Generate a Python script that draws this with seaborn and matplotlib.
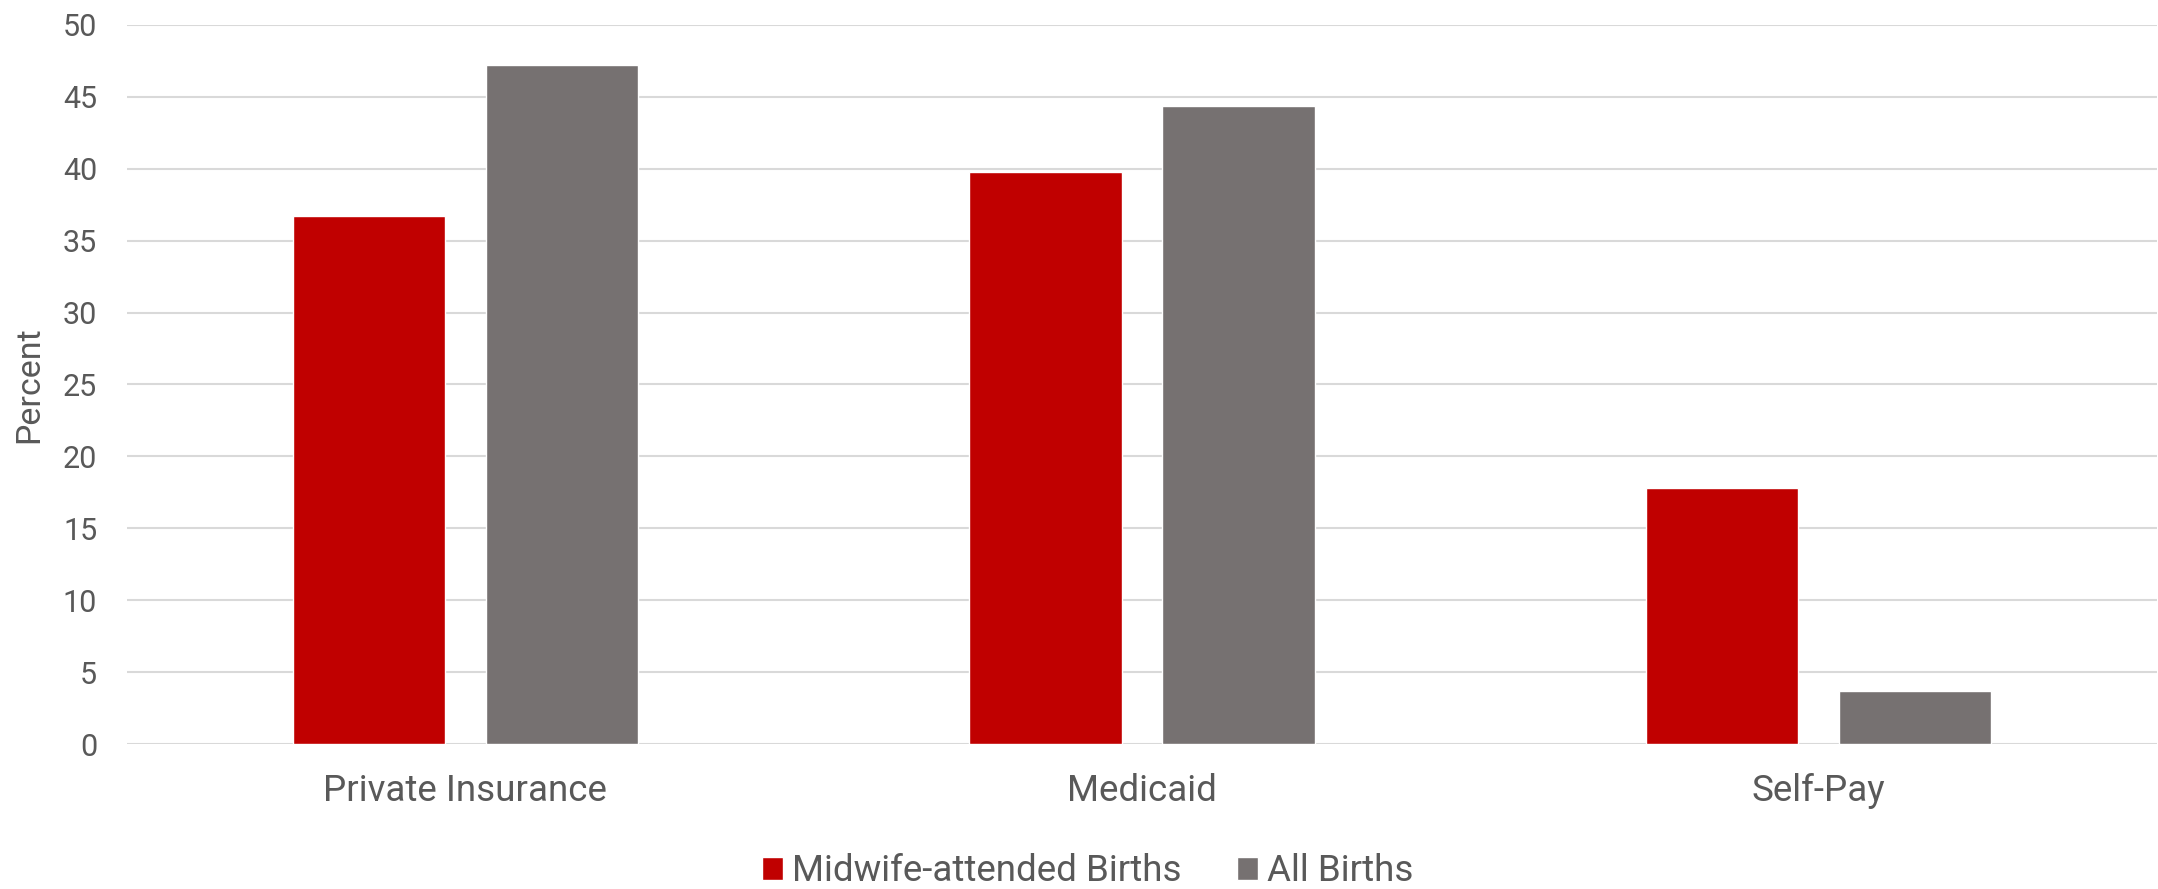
import pandas as pd
import matplotlib.pyplot as plt
import seaborn as sns

# values
categories = ["Private Insurance", "Medicaid", "Self-Pay"]
series_names = ["Midwife-attended Births", "All Births"]
midwife_births = [36.7, 39.8, 17.8]
all_births = [47.2, 44.4, 3.7]
y_ticks = [0, 5, 10, 15, 20, 25, 30, 35, 40, 45, 50]

df = pd.DataFrame({
    "payer": categories * 2,
    "group": [series_names[0]] * 3 + [series_names[1]] * 3,
    "percent": midwife_births + all_births,
})

sns.set_theme(style="white")
plt.rcParams["font.family"] = ["Roboto", "DejaVu Sans"]
text_color = "#595959"

fig = plt.figure(figsize=(21.58, 8.89), dpi=100)
ax = fig.add_axes([0.0589, 0.1631, 0.9406, 0.8088])

sns.barplot(data=df, x="payer", y="percent", hue="group",
            palette=["#C00000", "#767171"], width=0.57, gap=0.21,
            saturation=1, ax=ax, zorder=3)

ax.set_ylim(0, 50)
ax.set_xlim(-0.5, 2.5)
ax.set_yticks(y_ticks)
ax.yaxis.grid(True, color="#D9D9D9", linewidth=1.5, zorder=0)
ax.set_axisbelow(True)
for s in ax.spines.values():
    s.set_visible(False)

ax.tick_params(axis="y", labelsize=22, colors=text_color, length=0, pad=21.5)
ax.tick_params(axis="x", labelsize=26.5, colors=text_color, length=0, pad=21)
ax.set_xlabel("")
ax.set_ylabel("Percent", fontsize=24.5, color=text_color, labelpad=13)

ax.legend(loc="center", bbox_to_anchor=(0.504, 0.02),
          bbox_transform=fig.transFigure, ncol=2, borderpad=0,
          frameon=False, fontsize=26.5, labelcolor=text_color,
          handlelength=0.57, handleheight=0.57, handletextpad=0.25,
          columnspacing=1.5)

fig.savefig("out.png", dpi=100)
